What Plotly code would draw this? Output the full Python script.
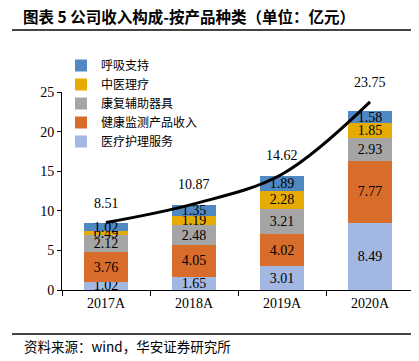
import plotly.graph_objects as go

categories = ["2017A", "2018A", "2019A", "2020A"]
s_care = [1.02, 1.65, 3.01, 8.49]       # 医疗护理服务
s_monitor = [3.76, 4.05, 4.02, 7.77]    # 健康监测产品收入
s_rehab = [2.12, 2.48, 3.21, 2.93]      # 康复辅助器具
s_tcm = [0.49, 1.19, 2.28, 1.85]        # 中医理疗
s_resp = [1.02, 1.35, 1.89, 1.58]       # 呼吸支持
totals = [8.51, 10.87, 14.62, 23.75]

series = [
    ("医疗护理服务", s_care, "#A2B7E1"),
    ("健康监测产品收入", s_monitor, "#D86C2B"),
    ("康复辅助器具", s_rehab, "#A5A5A5"),
    ("中医理疗", s_tcm, "#E6AC05"),
    ("呼吸支持", s_resp, "#4F88C2"),
]

serif = "Liberation Serif, Times New Roman, serif"
cjk = "Noto Sans CJK SC, sans-serif"

fig = go.Figure()
for name, vals, col in series:
    fig.add_trace(go.Bar(
        x=categories, y=vals, name=name, marker=dict(color=col, line=dict(width=0)),
        text=[f"{v:.2f}" for v in vals], textposition="inside",
        insidetextanchor="middle", constraintext="none",
        textfont=dict(family=serif, size=14, color="black"),
        width=0.5,
    ))

fig.add_trace(go.Scatter(
    x=categories, y=totals, mode="lines",
    line=dict(color="black", width=3, shape="spline", smoothing=1),
    showlegend=False, hoverinfo="skip",
))

annotations = []
for c, t in zip(categories, totals):
    annotations.append(dict(x=c, y=t, text=f"{t:.2f}", showarrow=False, yshift=19,
                            font=dict(family=serif, size=14, color="black")))

# plot area: 352 x 198 px
PW, PH = 352.0, 198.0
L, T = 54, 84  # browser body margin (8px) compensated

def px_x(px):
    return (px - 8 - L) / PW

def px_y(py):
    return 1 - (py - 8 - T) / PH

fig.update_layout(
    width=411, height=353,
    margin=dict(l=L, r=5, t=T, b=71),
    paper_bgcolor="white", plot_bgcolor="white",
    barmode="stack",
    uniformtext=dict(minsize=14, mode="show"),
    showlegend=True,
    legend=dict(x=px_x(61), y=px_y(51), xanchor="left", yanchor="top", traceorder="reversed",
                font=dict(family=cjk, size=12, color="black"), bgcolor="rgba(0,0,0,0)",
                itemwidth=30),
    xaxis=dict(type="category", showline=True, linecolor="black", linewidth=1,
               ticks="outside", tickson="boundaries", ticklen=5, tickcolor="black",
               tickfont=dict(family=serif, size=14, color="black"), showgrid=False),
    yaxis=dict(range=[0, 25], dtick=5, showline=True, linecolor="black", linewidth=1,
               ticks="outside", ticklen=4, tickcolor="black", showgrid=False, zeroline=False,
               tickfont=dict(family=serif, size=14, color="black")),
    annotations=annotations + [
        dict(x=px_x(22), y=px_y(28), xref="paper", yref="paper", xanchor="left", yanchor="bottom",
             text="<b>图表 5 公司收入构成-按产品种类（单位：亿元）</b>", showarrow=False,
             font=dict(family=cjk, size=15.5, color="black"), borderpad=0),
        dict(x=px_x(22), y=px_y(346), xref="paper", yref="paper", xanchor="left", yanchor="middle",
             text="资料来源：wind，华安证券研究所", showarrow=False,
             font=dict(family=cjk, size=13.5, color="black")),
    ],
    shapes=[
        dict(type="line", xref="paper", yref="paper", x0=px_x(12), x1=px_x(419),
             y0=px_y(30), y1=px_y(30), line=dict(color="#444444", width=2), layer="above"),
        dict(type="line", xref="paper", yref="paper", x0=px_x(12), x1=px_x(419),
             y0=px_y(334), y1=px_y(334), line=dict(color="#444444", width=2)),
    ],
)

fig.write_html("out.html")
